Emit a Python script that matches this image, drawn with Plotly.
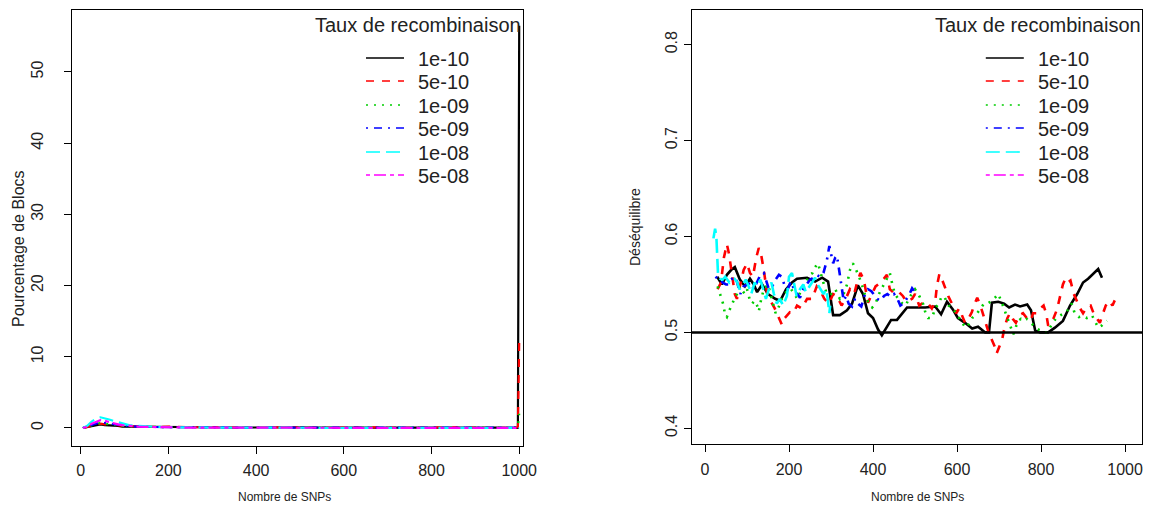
import plotly.graph_objects as go

W, H = 1149, 508          # target picture size
W_LAYOUT = 1164           # layout width (the page is shown ~1.3% narrower than laid out)

series_names = ["1e-10", "5e-10", "1e-09", "5e-09", "1e-08", "5e-08"]
series_colors = ["#000000", "#FF0000", "#00CD00", "#0000FF", "#00FFFF", "#FF00FF"]
dash_data = ["solid", "8px,8px", "2px,6px", "2px,6px,8px,6px", "14px,6px", "4px,4px,12px,4px"]

x_ticks = [0, 200, 400, 600, 800, 1000]
left_y_ticks = [0, 10, 20, 30, 40, 50]
right_y_ticks = [0.4, 0.5, 0.6, 0.7, 0.8]
right_y_labels = ["0.4", "0.5", "0.6", "0.7", "0.8"]

# ---- left panel: Pourcentage de Blocs vs Nombre de SNPs ----
left_x = [5, 15, 25, 35, 45, 55, 65, 75, 85, 95, 110, 130, 150, 175, 200, 250,
          300, 350, 400, 450, 500, 550, 600, 650, 700, 750, 800, 850, 900, 950, 997, 1000]
left_1e10 = [0, 0.1, 0.3, 0.4, 0.5, 0.4, 0.4, 0.3, 0.3, 0.2, 0.2, 0.15, 0.1, 0.2, 0.1, 0.1,
             0.1, 0.05, 0.1, 0.05, 0.1, 0.05, 0.05, 0.1, 0.05, 0.1, 0.05, 0.1, 0.15, 0.05, 0, 56.5]
left_5e10 = [0, 0.1, 0.3, 0.5, 0.6, 0.5, 0.5, 0.4, 0.4, 0.3, 0.3, 0.2, 0.2, 0.15, 0.2, 0.1,
             0.15, 0.1, 0.1, 0.05, 0.1, 0.05, 0.1, 0.05, 0.1, 0.05, 0.1, 0.05, 0.05, 0.05, 0.1, 12.0]
left_1e09 = [0, 0.2, 0.4, 0.6, 0.7, 0.6, 0.5, 0.4, 0.4, 0.3, 0.25, 0.2, 0.2, 0.15, 0.1, 0.1,
             0.1, 0.05, 0.1, 0.05, 0.05, 0.1, 0.05, 0.05, 0.1, 0.05, 0.05, 0.1, 0.05, 0.05, 0.1, 2.0]
left_5e09 = [0, 0.2, 0.5, 0.7, 0.8, 0.7, 0.6, 0.5, 0.4, 0.3, 0.25, 0.2, 0.15, 0.15, 0.1, 0.1,
             0.05, 0.1, 0.05, 0.05, 0.1, 0.05, 0.05, 0.1, 0.05, 0.05, 0.1, 0.05, 0.05, 0.05, 0.05, 0.4]
left_1e08 = [0, 0.3, 0.9, 1.3, 1.5, 1.4, 1.2, 1.0, 0.8, 0.6, 0.4, 0.3, 0.2, 0.15, 0.1, 0.05,
             0.05, 0.05, 0.05, 0.02, 0.02, 0.02, 0.02, 0.02, 0.02, 0.02, 0.02, 0.02, 0.02, 0.02, 0, 0]
left_5e08 = [0, 0.2, 0.6, 0.9, 1.1, 1.0, 0.8, 0.6, 0.5, 0.4, 0.3, 0.2, 0.15, 0.1, 0.1, 0.05,
             0.05, 0.05, 0.02, 0.02, 0.02, 0.02, 0.02, 0.02, 0.02, 0.02, 0.02, 0.02, 0.02, 0.02, 0, 0]

# ---- right panel: Déséquilibre vs Nombre de SNPs ----
r1e10_x = [29, 40, 52, 62, 71, 83, 95, 107, 116, 124, 136, 150, 167, 179, 193, 207, 219, 243, 262, 279,
           293, 305, 321, 338, 350, 364, 376, 388, 400, 412, 421, 433, 443, 457, 469, 481, 500, 524, 548, 562,
           576, 590, 602, 619, 636, 650, 667, 676, 683, 698, 712, 724, 738, 750, 767, 776, 786, 798, 817, 833,
           852, 869, 886, 900, 912, 924, 936, 945]
r1e10_y = [0.558, 0.55, 0.56, 0.565, 0.568, 0.555, 0.548, 0.556, 0.55, 0.542, 0.55, 0.54, 0.535, 0.533, 0.545,
           0.552, 0.556, 0.557, 0.553, 0.557, 0.553, 0.518, 0.518, 0.523, 0.53, 0.549, 0.54, 0.52, 0.515, 0.503,
           0.497, 0.505, 0.513, 0.513, 0.52, 0.526, 0.526, 0.526, 0.527, 0.519, 0.532, 0.524, 0.515, 0.51, 0.504,
           0.506, 0.5, 0.5, 0.531, 0.532, 0.53, 0.526, 0.529, 0.527, 0.529, 0.523, 0.502, 0.5, 0.5, 0.505,
           0.512, 0.528, 0.54, 0.552, 0.556, 0.561, 0.566, 0.557]

r5e10_x = [30, 38, 45, 52, 57, 64, 71, 76, 84, 92, 100, 107, 114, 122, 128, 134, 140, 148, 157, 166,
           176, 183, 190, 202, 210, 219, 230, 243, 255, 266, 274, 284, 295, 305, 314, 325, 335, 345, 355, 362,
           370, 378, 388, 398, 406, 412, 424, 433, 440, 445, 452, 462, 471, 480, 493, 500, 510, 516, 528, 540,
           548, 552, 558, 567, 579, 590, 598, 605, 612, 619, 628, 635, 642, 648, 655, 662, 667, 675, 683, 690,
           694, 700, 707, 714, 720, 726, 733, 740, 748, 757, 766, 775, 781, 790, 798, 806, 812, 817, 823, 829,
           838, 846, 852, 858, 864, 870, 878, 886, 893, 900, 910, 918, 925, 932, 940, 946, 954, 962, 970, 978]
r5e10_y = [0.545, 0.552, 0.578, 0.592, 0.582, 0.562, 0.54, 0.535, 0.55, 0.565, 0.572, 0.562, 0.558, 0.578, 0.588,
           0.58, 0.565, 0.54, 0.532, 0.525, 0.515, 0.508, 0.515, 0.521, 0.52, 0.528, 0.525, 0.535, 0.535, 0.548,
           0.544, 0.535, 0.53, 0.54, 0.538, 0.528, 0.535, 0.545, 0.54, 0.552, 0.562, 0.555, 0.531, 0.54, 0.548,
           0.55, 0.555, 0.56, 0.545, 0.543, 0.54, 0.542, 0.538, 0.532, 0.535, 0.54, 0.528, 0.53, 0.532, 0.525,
           0.532, 0.548, 0.561, 0.552, 0.538, 0.528, 0.52, 0.525, 0.518, 0.51, 0.515, 0.521, 0.53, 0.536, 0.529,
           0.518, 0.51, 0.5, 0.492, 0.485, 0.478, 0.485, 0.492, 0.507, 0.515, 0.52, 0.514, 0.51, 0.518, 0.52,
           0.515, 0.512, 0.52, 0.52, 0.525, 0.528, 0.52, 0.507, 0.51, 0.514, 0.524, 0.54, 0.55, 0.556, 0.552,
           0.554, 0.54, 0.532, 0.525, 0.52, 0.527, 0.528, 0.52, 0.515, 0.51, 0.518, 0.528, 0.533, 0.528, 0.536]

r1e09_x = [30, 36, 43, 48, 52, 58, 64, 70, 76, 82, 88, 95, 100, 106, 112, 118, 124, 128, 134, 140,
           150, 156, 162, 168, 174, 183, 190, 198, 205, 212, 220, 230, 243, 250, 256, 262, 269, 276, 283, 290,
           300, 310, 321, 330, 338, 345, 352, 358, 364, 372, 380, 390, 398, 406, 414, 424, 432, 440, 446, 452,
           460, 470, 478, 485, 492, 500, 510, 519, 525, 531, 540, 548, 556, 564, 571, 580, 590, 598, 606, 614,
           620, 626, 636, 648, 656, 664, 672, 683, 690, 698, 705, 712, 720, 728, 734, 738, 745, 752, 757, 766,
           775, 784, 790, 798, 806, 814, 820, 828, 836, 846, 855, 862, 868, 873, 880, 890, 900, 909, 915, 921,
           928, 936, 944, 950, 957]
r1e09_y = [0.548, 0.54, 0.53, 0.518, 0.516, 0.523, 0.53, 0.535, 0.54, 0.548, 0.544, 0.54, 0.545, 0.535, 0.53,
           0.533, 0.528, 0.522, 0.535, 0.545, 0.55, 0.54, 0.528, 0.52, 0.525, 0.535, 0.54, 0.545, 0.545, 0.54,
           0.535, 0.545, 0.555, 0.56, 0.562, 0.568, 0.572, 0.56, 0.55, 0.54, 0.54, 0.545, 0.535, 0.54, 0.55,
           0.565, 0.572, 0.567, 0.56, 0.552, 0.54, 0.53, 0.526, 0.53, 0.54, 0.549, 0.555, 0.562, 0.55, 0.54,
           0.535, 0.53, 0.528, 0.535, 0.54, 0.545, 0.538, 0.53, 0.52, 0.515, 0.515, 0.525, 0.53, 0.538, 0.536,
           0.528, 0.525, 0.52, 0.515, 0.51, 0.505, 0.507, 0.515, 0.52, 0.525, 0.53, 0.53, 0.533, 0.536, 0.54,
           0.533, 0.525, 0.515, 0.505, 0.498, 0.503, 0.512, 0.514, 0.512, 0.514, 0.51, 0.507, 0.504, 0.502, 0.5,
           0.5, 0.505, 0.51, 0.515, 0.518, 0.52, 0.522, 0.527, 0.53, 0.52, 0.516, 0.517, 0.515, 0.516, 0.518,
           0.512, 0.505, 0.507, 0.51, 0.512]

r5e09_x = [25, 30, 36, 42, 50, 56, 62, 70, 76, 84, 92, 100, 110, 116, 124, 132, 140, 146, 152, 160,
           168, 176, 183, 190, 197, 204, 212, 220, 226, 234, 242, 250, 258, 266, 274, 282, 290, 296, 300, 305,
           310, 314, 320, 326, 330, 336, 342, 350, 357, 364, 372, 381, 388, 396, 404, 410, 418, 426, 434, 442,
           450, 458, 465, 472, 480, 487, 493, 500]
r5e09_y = [0.558, 0.556, 0.556, 0.552, 0.55, 0.55, 0.555, 0.558, 0.553, 0.54, 0.548, 0.55, 0.552, 0.545, 0.552,
           0.56, 0.562, 0.552, 0.545, 0.548, 0.555, 0.56, 0.558, 0.548, 0.545, 0.553, 0.545, 0.54, 0.536, 0.545,
           0.55, 0.555, 0.557, 0.56, 0.558, 0.562, 0.575, 0.59, 0.582, 0.572, 0.578, 0.58, 0.563, 0.545, 0.533,
           0.538, 0.53, 0.527, 0.535, 0.53, 0.527, 0.54, 0.545, 0.543, 0.538, 0.535, 0.533, 0.538, 0.54, 0.537,
           0.54, 0.535, 0.528, 0.53, 0.535, 0.54, 0.546, 0.542]

r1e08_x = [20, 24, 27, 29, 31, 36, 42, 48, 52, 58, 64, 70, 76, 82, 90, 97, 104, 110, 118, 124,
           132, 138, 145, 152, 158, 164, 171, 178, 186, 195, 200, 207, 212, 218, 226, 234, 240, 248, 256, 262,
           268, 275, 282, 288, 292, 296, 298]
r1e08_y = [0.598, 0.608, 0.6, 0.575, 0.56, 0.556, 0.555, 0.558, 0.556, 0.552, 0.555, 0.556, 0.553, 0.545, 0.55,
           0.555, 0.548, 0.54, 0.552, 0.548, 0.555, 0.545, 0.535, 0.545, 0.552, 0.54, 0.53, 0.535, 0.528, 0.538,
           0.558, 0.562, 0.55, 0.538, 0.545, 0.55, 0.542, 0.548, 0.553, 0.557, 0.55, 0.545, 0.54, 0.545, 0.535,
           0.52, 0.528]

r5e08_x = []
r5e08_y = []

reference_level = 0.5

left_series = [left_1e10, left_5e10, left_1e09, left_5e09, left_1e08, left_5e08]
right_series = [(r1e10_x, r1e10_y), (r5e10_x, r5e10_y), (r1e09_x, r1e09_y),
                (r5e09_x, r5e09_y), (r1e08_x, r1e08_y), (r5e08_x, r5e08_y)]

FONT = "Liberation Sans, Arial, Helvetica, sans-serif"
TXT = "#222222"


def px(x):
    return x / W


def py(y):
    return 1 - y / H


fig = go.Figure()

for name, col, dsh, vals in zip(series_names, series_colors, dash_data, left_series):
    fig.add_trace(go.Scatter(x=left_x, y=vals, mode="lines", name=name, showlegend=False,
                             line=dict(color=col, width=2.2, dash=dsh), xaxis="x", yaxis="y"))

for name, col, dsh, (xs, ys) in zip(series_names, series_colors, dash_data, right_series):
    fig.add_trace(go.Scatter(x=xs, y=ys, mode="lines", name=name, showlegend=False,
                             line=dict(color=col, width=2.6, dash=dsh), xaxis="x2", yaxis="y2"))

fig.add_shape(type="line", xref="x2 domain", yref="y2", x0=0, x1=1,
              y0=reference_level, y1=reference_level, line=dict(color="black", width=2.5))

axis_common = dict(showgrid=False, zeroline=False, showline=True, mirror=True,
                   linecolor="black", linewidth=1.3, ticks="outside", ticklen=7,
                   tickcolor="black", tickwidth=1.2,
                   tickfont=dict(family=FONT, size=16, color=TXT))

fig.update_layout(
    width=W_LAYOUT, height=H, autosize=False,
    margin=dict(l=0, r=0, t=0, b=0),
    paper_bgcolor="white", plot_bgcolor="white",
    showlegend=False,
    xaxis=dict(domain=[px(72), px(522.5)], range=[-19.8, 1007.5], tickvals=x_ticks,
               anchor="y", ticklabelstandoff=3, **axis_common),
    yaxis=dict(domain=[py(446), py(10)], range=[-2.53, 58.7], tickvals=left_y_ticks,
               anchor="x", tickangle=-90, ticklabelstandoff=14, **axis_common),
    xaxis2=dict(domain=[px(691.7), px(1142.3)], range=[-31.7, 1041], tickvals=x_ticks,
                anchor="y2", ticklabelstandoff=3, **axis_common),
    yaxis2=dict(domain=[py(444.3), py(10)], range=[0.3834, 0.836], tickvals=right_y_ticks,
                ticktext=right_y_labels, anchor="x2", tickangle=-90, ticklabelstandoff=0,
                **axis_common),
)


def label(x, y, text, size, angle=0, xanchor="center"):
    fig.add_annotation(x=px(x), y=py(y), xref="paper", yref="paper", text=text,
                       textangle=angle, showarrow=False, xanchor=xanchor, yanchor="middle",
                       font=dict(family=FONT, size=size, color=TXT))


# axis titles
label(284, 497, "Nombre de SNPs", 12)
label(917, 497, "Nombre de SNPs", 12)
label(18, 249, "Pourcentage de Blocs", 16, angle=-90)
label(635, 227, "Déséquilibre", 14, angle=-90)

# legends (one per panel)
legend_title = "Taux de recombinaison"
legend_dash = ["solid", "8px,8px", "2px,6px", "2px,6px,8px,6px", "14px,6px", "4px,4px,12px,4px"]
row_y = [58, 81, 105, 128, 152, 175]
for offset in (0, 619.8):
    label(418 + offset, 25, legend_title, 20)
    for name, col, dsh, yy in zip(series_names, series_colors, legend_dash, row_y):
        fig.add_shape(type="line", xref="paper", yref="paper",
                      x0=px(366 + offset), x1=px(404 + offset), y0=py(yy), y1=py(yy),
                      line=dict(color=col, width=1.6, dash=dsh))
        label(416 + offset, yy + 1, name, 20, xanchor="left")

fig.write_html(
    "out.html",
    config={"displayModeBar": False, "responsive": False},
    post_script=("document.documentElement.style.overflow='hidden';"
                 "document.body.style.margin='0';document.body.style.overflow='hidden';"),
)
